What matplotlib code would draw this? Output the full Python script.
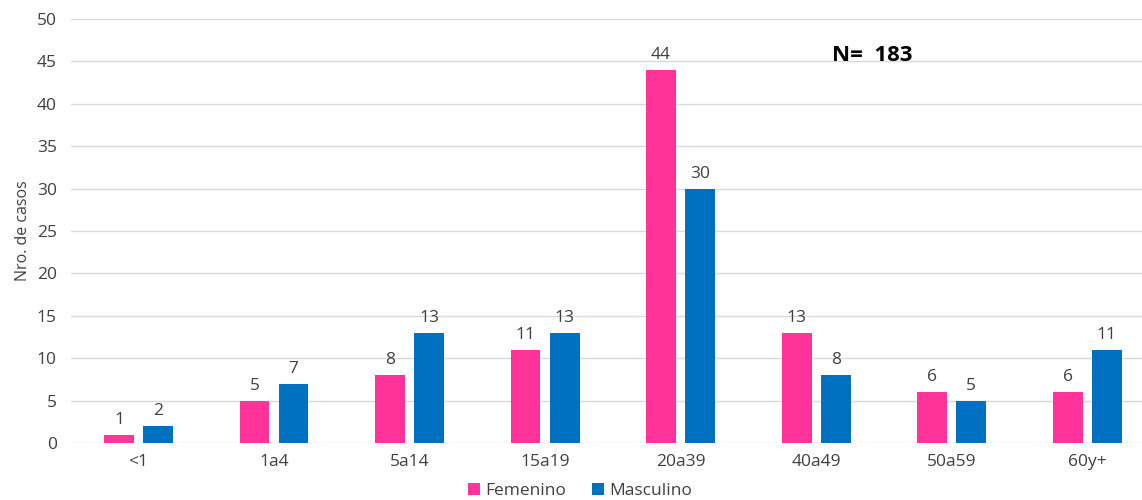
import matplotlib.pyplot as plt
import numpy as np

plt.rcParams['font.family'] = ['Open Sans', 'DejaVu Sans']

grupos = ['<1', '1a4', '5a14', '15a19', '20a39', '40a49', '50a59', '60y+']
femenino = [1, 5, 8, 11, 44, 13, 6, 6]
masculino = [2, 7, 13, 13, 30, 8, 5, 11]

rosa = '#FF3399'
azul = '#0070C0'
texto = '#404040'

fig = plt.figure(figsize=(11.42, 5), dpi=100)
ax = fig.add_axes([0.0619, 0.114, 0.9495, 0.848])

x = np.arange(len(grupos))
w = 0.22
b1 = ax.bar(x - 0.144, femenino, w, color=rosa, label='Femenino', zorder=3)
b2 = ax.bar(x + 0.144, masculino, w, color=azul, label='Masculino', zorder=3)

for bars, vals in ((b1, femenino), (b2, masculino)):
    for r, v in zip(bars, vals):
        ax.text(r.get_x() + r.get_width() / 2, v + 0.8, str(v),
                ha='center', va='bottom', fontsize=12.5, color=texto)

ax.set_xlim(-0.5, len(grupos) - 0.5)
ax.set_ylim(0, 50)
ax.set_yticks(range(0, 51, 5))
ax.set_xticks(x)
ax.set_xticklabels(grupos)
ax.tick_params(length=0, labelsize=12.5, colors=texto, pad=8)
ax.tick_params(axis='y', pad=10)
ax.grid(axis='y', color='#d9d9d9', linewidth=1, zorder=0)
for s in ax.spines.values():
    s.set_visible(False)

ax.set_ylabel('Nro. de casos', fontsize=11.5, color=texto, labelpad=4)

ax.text(5.12, 45.1, 'N=  183', fontsize=16, fontweight='bold', color='black')

fig.legend(loc='lower center', bbox_to_anchor=(0.508, -0.03), ncol=2,
           frameon=False, fontsize=12.5, handlelength=0.7, handleheight=0.7,
           handletextpad=0.3, columnspacing=1.5, labelcolor=texto)

fig.savefig('out.png', dpi=100)
